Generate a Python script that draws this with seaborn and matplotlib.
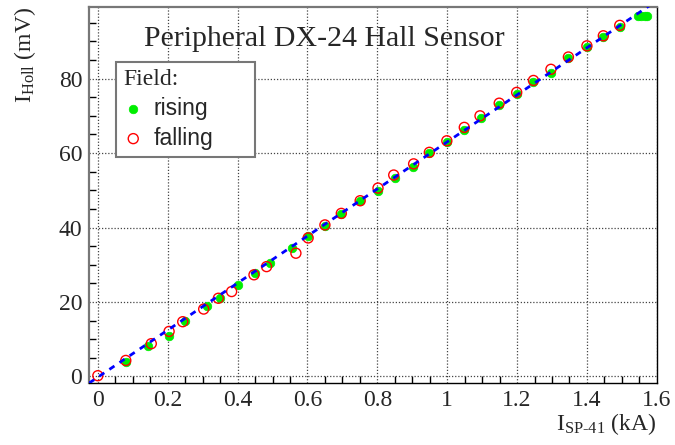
import numpy as np
import pandas as pd
import matplotlib
matplotlib.use("Agg")
import matplotlib.pyplot as plt
import seaborn as sns
from matplotlib.ticker import MultipleLocator

# ---- data ----
rising_x = [0.082, 0.144, 0.204, 0.25, 0.312, 0.351, 0.402, 0.449, 0.492, 0.557,
            0.602, 0.65, 0.697, 0.751, 0.802, 0.852, 0.902, 0.949, 0.999, 1.049,
            1.097, 1.149, 1.199, 1.247, 1.297, 1.347, 1.40, 1.447, 1.494,
            1.545, 1.555, 1.565, 1.573]
rising_y = [4.0, 8.05, 10.9, 15.0, 19.0, 21.2, 24.6, 27.8, 30.6, 34.6,
            37.6, 40.5, 43.6, 47.0, 49.9, 53.3, 56.2, 60.0, 63.1, 66.2,
            69.4, 72.9, 75.9, 79.2, 81.6, 85.4, 88.4, 91.1, 93.9,
            96.8, 96.8, 96.8, 96.8]
falling_x = [0.0, 0.08, 0.153, 0.204, 0.243, 0.303, 0.345, 0.383, 0.447, 0.483,
             0.567, 0.602, 0.65, 0.697, 0.751, 0.802, 0.847, 0.904, 0.949, 0.999,
             1.049, 1.094, 1.149, 1.199, 1.247, 1.297, 1.347, 1.40, 1.447, 1.494]
falling_y = [0.2, 4.3, 8.8, 12.1, 14.7, 18.1, 21.0, 22.8, 27.3, 29.5,
             33.1, 37.2, 40.7, 43.8, 47.2, 50.6, 54.1, 57.1, 60.2, 63.3,
             66.9, 70.0, 73.4, 76.3, 79.5, 82.5, 85.8, 88.8, 91.5, 94.3]
fit_slope = 63.2
fit_intercept = -0.2

title = "Peripheral DX-24 Hall Sensor"
xlabel = r"$\mathregular{I_{SP\text{-}41}}$ (kA)"
ylabel = r"$\mathregular{I_{Holl}}$ (mV)"

xlim = (-0.025, 1.6)
ylim = (-1.8, 99.2)

# ---- style ----
sns.set_theme(style="white")
plt.rcParams["font.family"] = ["Liberation Serif", "DejaVu Serif"]
plt.rcParams["mathtext.fontset"] = "custom"
plt.rcParams["mathtext.rm"] = "Liberation Serif"

fig = plt.figure(figsize=(6.75, 4.45), dpi=100)
ax = fig.add_axes([0.132, 0.139, 0.841, 0.845])

rise = pd.DataFrame({"x": rising_x, "y": rising_y})
fall = pd.DataFrame({"x": falling_x, "y": falling_y})

sns.scatterplot(data=rise, x="x", y="y", ax=ax, marker="o", s=38,
                color="#00ee00", edgecolor="#00ee00", linewidth=0.5,
                label="rising", zorder=3)
sns.scatterplot(data=fall, x="x", y="y", ax=ax, marker="o", s=52,
                facecolor="none", edgecolor="#ff0000", linewidth=1.0,
                label="falling", zorder=4)

fx = np.array(xlim)
fit = pd.DataFrame({"x": fx, "y": fit_slope * fx + fit_intercept})
sns.lineplot(data=fit, x="x", y="y", ax=ax, color="#0000ff", linewidth=2.0,
             linestyle=(0, (2.2, 2.2)), zorder=5, legend=False)

ax.set_xlim(*xlim)
ax.set_ylim(*ylim)

ax.xaxis.set_minor_locator(MultipleLocator(0.05))
ax.yaxis.set_major_locator(MultipleLocator(20))
ax.yaxis.set_minor_locator(MultipleLocator(5))
ax.set_xticks(np.arange(0, 1.61, 0.2))
ax.set_xticklabels(["0", "0.2", "0.4", "0.6", "0.8", "1", "1.2", "1.4", "1.6"])

ax.tick_params(which="both", direction="in", top=False, right=False,
               labelsize=17, color="black", pad=5)
ax.tick_params(which="major", length=11, width=1.0)
ax.tick_params(which="minor", length=5, width=1.0, left=True, bottom=True)

ax.grid(True, which="major", linestyle=(0, (1, 1.5)), color="#444444", linewidth=0.9)

for side in ["left", "top"]:
    ax.spines[side].set_color("#777777")
    ax.spines[side].set_linewidth(1.6)
for side in ["right", "bottom"]:
    ax.spines[side].set_color("black")
    ax.spines[side].set_linewidth(1.0)

ax.set_xlabel(xlabel, fontsize=17, loc="right", labelpad=0)
ax.set_ylabel(ylabel, fontsize=17, loc="top", labelpad=15)

ax.text(0.414, 0.915, title, transform=ax.transAxes, ha="center", va="center",
        fontsize=21.5)

leg = ax.legend(loc="upper left", bbox_to_anchor=(0.0475, 0.597, 0.2445, 0.257),
                mode="expand", borderaxespad=0, title="Field:", alignment="left",
                prop={"family": "Liberation Sans", "size": 16.5},
                title_fontproperties={"family": "Liberation Serif", "size": 17},
                fancybox=False, frameon=True, handletextpad=0.45,
                handlelength=0.9, borderpad=0.3, labelspacing=0.3,
                markerscale=1.0)
leg.get_frame().set_edgecolor("#777777")
leg.get_frame().set_linewidth(1.5)
leg.get_frame().set_facecolor("white")
leg.get_frame().set_alpha(1)
leg.set_zorder(10)

fig.savefig("out.png", dpi=100)
